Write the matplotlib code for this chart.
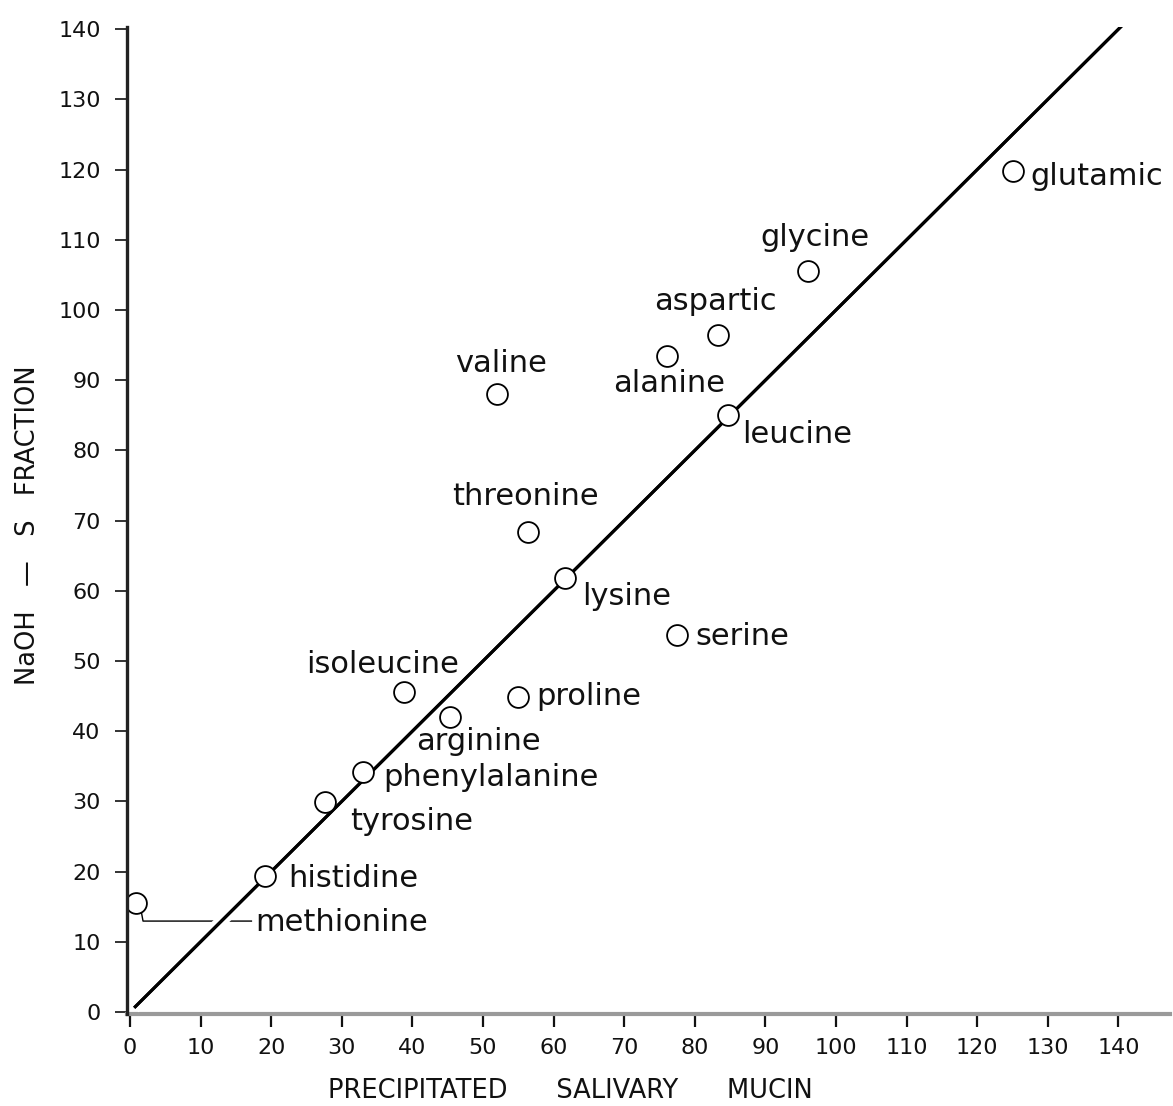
import matplotlib
matplotlib.use("Agg")
import matplotlib.pyplot as plt
import matplotlib.patheffects as pe

# ---- data ----
amino_acids = ["methionine", "histidine", "tyrosine", "phenylalanine", "arginine",
               "isoleucine", "proline", "serine", "lysine", "threonine", "leucine",
               "valine", "alanine", "aspartic", "glycine", "glutamic"]
precipitated_mucin = [0.8, 19.1, 27.6, 33.0, 45.3, 38.8, 55.0, 77.5, 61.6, 56.4,
                      84.7, 52.0, 76.1, 83.3, 96.0, 125.1]
naoh_s_fraction = [15.5, 19.4, 29.9, 34.2, 42.0, 45.6, 44.9, 53.7, 61.8, 68.4,
                   85.0, 88.0, 93.4, 96.4, 105.6, 119.8]
line_x = [0.6, 142.4]
line_y = [0.6, 142.4]
x_ticks = list(range(0, 141, 10))
y_ticks = list(range(0, 141, 10))

# label placement (pixel offsets from point to text baseline anchor, alignment)
label_style = {
    "methionine":    (120, -28, "left"),
    "histidine":     (23, -11, "left"),
    "tyrosine":      (25, -28, "left"),
    "phenylalanine": (20, -14, "left"),
    "arginine":      (-34, -33, "left"),
    "isoleucine":    (-21, 19, "center"),
    "proline":       (18, -8, "left"),
    "serine":        (18, -10, "left"),
    "lysine":        (17, -27, "left"),
    "threonine":     (-3, 27, "center"),
    "leucine":       (14, -28, "left"),
    "valine":        (4, 22, "center"),
    "alanine":       (2, -36, "center"),
    "aspartic":      (-3, 25, "center"),
    "glycine":       (7, 25, "center"),
    "glutamic":      (17, -14, "left"),
}

FONT = "DejaVu Sans"
plt.rcParams["font.family"] = [FONT]

fig = plt.figure(figsize=(11.73, 11.06), dpi=100)
ax = fig.add_axes([0.1084, 0.0831, 0.8890, 0.8924])
ax.set_xlim(-0.4, 147.3)
ax.set_ylim(-0.3, 140.3)

# identity line with white halo (creates gap in the leader line)
ax.plot(line_x, line_y, color="black", lw=2.2, zorder=3, solid_capstyle="butt",
        path_effects=[pe.withStroke(linewidth=9, foreground="white"), pe.Normal()])

ax.plot(precipitated_mucin, naoh_s_fraction, linestyle="none", marker="o",
        markersize=15, markerfacecolor="white", markeredgecolor="black",
        markeredgewidth=1.3, zorder=4, clip_on=True)

for name, xv, yv in zip(amino_acids, precipitated_mucin, naoh_s_fraction):
    dx, dy, ha = label_style[name]
    ax.annotate(name, xy=(xv, yv), xytext=(dx * 0.72, dy * 0.72),
                textcoords="offset points", ha=ha, va="baseline",
                fontsize=22, color="#111111", zorder=5)

# methionine leader line
mi = amino_acids.index("methionine")
mx, my = precipitated_mucin[mi], naoh_s_fraction[mi]
ax.plot([mx + 0.8, mx + 1.05, mx + 16.4], [my - 1.2, my - 2.55, my - 2.55],
        color="black", lw=1.0, zorder=2)

# spines
for s in ["top", "right"]:
    ax.spines[s].set_visible(False)
ax.spines["left"].set_linewidth(2.4)
ax.spines["left"].set_color("#222222")
ax.spines["left"].set_zorder(6)
ax.spines["bottom"].set_linewidth(3.0)
ax.spines["bottom"].set_color("#9a9a9a")
ax.spines["bottom"].set_linestyle((0, (2, 1)))

ax.set_xticks(x_ticks)
ax.set_yticks(y_ticks)
ax.set_xticklabels([str(t) for t in x_ticks])
ax.set_yticklabels([str(t) for t in y_ticks])
ax.tick_params(axis="x", direction="out", length=9, width=1.6, pad=8,
               labelsize=16, colors="#111111")
ax.tick_params(axis="y", direction="out", length=9, width=1.2, pad=10,
               labelsize=16, colors="#111111")

ax.set_xlabel("PRECIPITATED      SALIVARY      MUCIN", fontsize=18.5,
              color="#111111")
ax.set_ylabel("NaOH   —   S   FRACTION", fontsize=18.5, color="#111111")
ax.yaxis.set_label_coords(-0.083, 0.495)
ax.xaxis.set_label_coords(0.425, -0.065)

fig.savefig("out.png", dpi=100)
